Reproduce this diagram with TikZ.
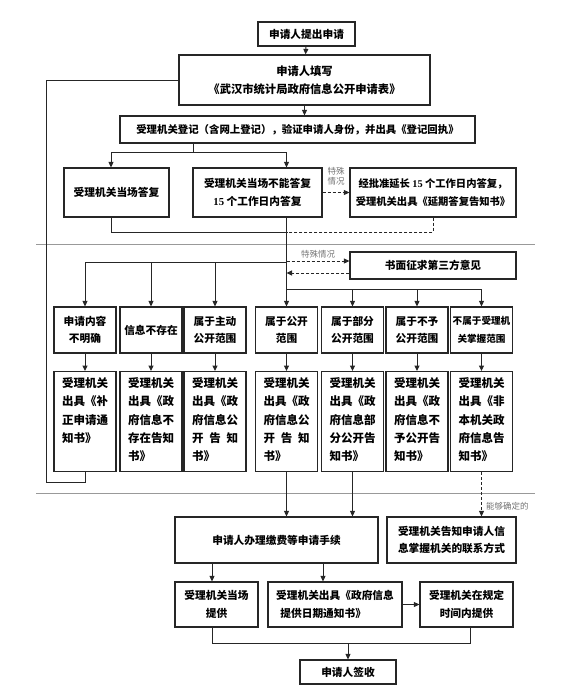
\documentclass[tikz,border=0pt]{standalone}
\usepackage{fontspec}
\setmainfont{Noto Sans CJK SC}
\newfontfamily\numfont{Liberation Serif}
\usetikzlibrary{arrows.meta}
\newcommand\rtwo[1]{\parbox[t][88pt][t]{46pt}{\fontsize{11.5}{18.3}\selectfont\bfseries #1}}
\newcommand\spreadline[1]{\makebox[46pt][s]{#1}}
\newcommand\nf[1]{{\numfont\bfseries #1}}
\begin{document}
\begin{tikzpicture}[x=1pt,y=-1pt,
  box/.style={draw=black!85, line width=1.2pt, inner sep=0pt, align=center,
    font=\fontsize{10.7}{17.5}\selectfont\bfseries},
  rbox/.style={draw=black!85, line width=1.2pt, inner xsep=8pt, inner ysep=6pt, anchor=north},
  conn/.style={draw=black!85, line width=1pt},
  arr/.style={conn, -{Triangle[length=5.5pt,width=5pt]}},
  dsh/.style={dash pattern=on 3pt off 2pt},
  sep/.style={draw=black!40, line width=1pt, dash pattern=on 0.5pt off 0.5pt},
  lbl/.style={text=black!55, inner sep=0pt, align=center, font=\fontsize{8.5}{10}\selectfont}]
\useasboundingbox (0,0) rectangle (587,691);

% ---------- top part ----------
\node[box, minimum width=97pt, minimum height=24pt] (A) at (306.5,34) {申请人提出申请};
\node[box, minimum width=251pt, minimum height=50pt, font=\fontsize{11.3}{18}\selectfont\bfseries] (B) at (304.5,80)
  {申请人填写\\《武汉市统计局政府信息公开申请表》};
\node[box, minimum width=355pt, minimum height=27pt, font=\fontsize{10.4}{12}\selectfont\bfseries] (C) at (297.5,129.5)
  {受理机关登记（含网上登记），验证申请人身份，并出具《登记回执》};
\node[box, minimum width=105pt, minimum height=49pt] (D1) at (116.5,192.5) {受理机关当场答复};
\node[box, minimum width=129pt, minimum height=49pt] (D2) at (257.5,192.5) {受理机关当场不能答复\\\nf{15} 个工作日内答复};
\node[box, minimum width=166pt, minimum height=49pt, font=\fontsize{10.3}{17.5}\selectfont\bfseries] (E) at (433,192.5)
  {经批准延长 \nf{15} 个工作日内答复，\\受理机关出具《延期答复告知书》};
\node[box, minimum width=166pt, minimum height=27pt] (F) at (433,265.5) {书面征求第三方意见};

\draw[arr] (A) -- (B);
\draw[arr] (B) -- (B.south |- C.north);

\coordinate (c1) at (193,152);
\coordinate (b1) at (111,152);
\coordinate (b2) at (286.5,152);
\draw[conn] (c1 |- C.south) -- (c1);
\draw[conn] (b1) -- (b2);
\draw[arr] (b1) -- (b1 |- D1.north);
\draw[arr] (b2) -- (b2 |- D2.north);

\draw[arr, dsh] (D2.east) -- (E.west);
\node[lbl] (lab1) at (336,176) {特殊\\情况};

\coordinate (d1) at (111,232);
\draw[conn] (b1 |- D1.south) -- (d1) -- (d1 -| b2);
\draw[conn, dsh] (E.south) -- (E.south |- d1) -- (d1 -| b2);

% separators
\coordinate (s1l) at (36,244);
\coordinate (s1r) at (535,244);
\draw[sep] (s1l) -- (s1r);
\coordinate (s2l) at (36,493);
\coordinate (s2r) at (535,493);
\draw[sep] (s2l) -- (s2r);

% third party opinion
\coordinate (f1) at ([yshift=4.5pt]F.west);
\coordinate (f2) at ([yshift=-7.5pt]F.west);
\draw[arr, dsh] (f1 -| b2) -- (f1);
\draw[arr, dsh] (f2) -- (f2 -| b2);
\node[lbl] (lab2) at (318,254) {特殊情况};

% ---------- row 1 ----------
\node[box, minimum width=62pt, minimum height=46pt] (R1a) at (85,330) {申请内容\\不明确};
\node[box, minimum width=62pt, minimum height=46pt] (R1b) at (151,330) {信息不存在};
\node[box, minimum width=62pt, minimum height=46pt] (R1c) at (215,330) {属于主动\\公开范围};
\node[box, minimum width=62pt, minimum height=46pt] (R1d) at (286.5,330) {属于公开\\范围};
\node[box, minimum width=62pt, minimum height=46pt] (R1e) at (352.5,330) {属于部分\\公开范围};
\node[box, minimum width=62pt, minimum height=46pt] (R1f) at (417,330) {属于不予\\公开范围};
\node[box, minimum width=62pt, minimum height=46pt, font=\fontsize{9.6}{17.5}\selectfont\bfseries] (R1g) at (481.5,330) {不属于受理机\\关掌握范围};

\draw[arr] (b2 |- D2.south) -- (R1d.north);

\coordinate (lb) at (0,262);
\draw[conn] (R1a.north |- lb) -- (lb -| R1d.north);
\draw[arr] (R1a.north |- lb) -- (R1a.north);
\draw[arr] (R1b.north |- lb) -- (R1b.north);
\draw[arr] (R1c.north |- lb) -- (R1c.north);

\coordinate (rb) at (0,289);
\draw[conn] (rb -| R1d.north) -- (rb -| R1g.north);
\draw[arr] (rb -| R1e.north) -- (R1e.north);
\draw[arr] (rb -| R1f.north) -- (R1f.north);
\draw[arr] (rb -| R1g.north) -- (R1g.north);

% ---------- row 2 ----------
\node[rbox] (R2a) at (85,371) {\rtwo{受理机关\\出具《补\\正申请通\\知书》}};
\node[rbox] (R2b) at (151,371) {\rtwo{受理机关\\出具《政\\府信息不\\存在告知\\书》}};
\node[rbox] (R2c) at (215,371) {\rtwo{受理机关\\出具《政\\府信息公\\\spreadline{开\hfill 告\hfill 知}\\书》}};
\node[rbox] (R2d) at (286.5,371) {\rtwo{受理机关\\出具《政\\府信息公\\\spreadline{开\hfill 告\hfill 知}\\书》}};
\node[rbox] (R2e) at (352.5,371) {\rtwo{受理机关\\出具《政\\府信息部\\分公开告\\知书》}};
\node[rbox] (R2f) at (417,371) {\rtwo{受理机关\\出具《政\\府信息不\\予公开告\\知书》}};
\node[rbox] (R2g) at (481.5,371) {\rtwo{受理机关\\出具《非\\本机关政\\府信息告\\知书》}};

\foreach \n in {a,b,c,d,e,f,g}{\draw[arr] (R1\n.south) -- (R2\n.north);}

% loop back to application form
\coordinate (L1) at (46,482);
\draw[conn] (R2a.south) -- (R2a.south |- L1) -- (L1) -- (L1 |- B.west) -- (B.west);

% ---------- bottom part ----------
\node[box, minimum width=203pt, minimum height=46pt] (G) at (276.5,540) {申请人办理缴费等申请手续};
\node[box, minimum width=129pt, minimum height=46pt] (H) at (451.5,540) {受理机关告知申请人信\\息掌握机关的联系方式};
\node[box, minimum width=83pt, minimum height=45pt] (I1) at (216.5,604.5) {受理机关当场\\提供};
\node[box, minimum width=134pt, minimum height=45pt] (I2) at (335,604.5) {受理机关出具《政府信息\\提供日期通知书》\hspace*{2.2em}};
\node[box, minimum width=93pt, minimum height=45pt] (I3) at (466.5,604.5) {受理机关在规定\\时间内提供};
\node[box, minimum width=96pt, minimum height=24pt] (J) at (348,672) {申请人签收};

\draw[arr] (R2d.south) -- (R2d.south |- G.north);
\draw[arr] (R2e.south) -- (R2e.south |- G.north);
\draw[arr, dsh] (R2g.south) -- (R2g.south |- H.north);
\node[lbl, anchor=west] (lab3) at (486,506) {能够确定的};

\coordinate (g1) at (212,0);
\coordinate (g2) at (323,0);
\draw[arr] (g1 |- G.south) -- (g1 |- I1.north);
\draw[arr] (g2 |- G.south) -- (g2 |- I2.north);
\draw[arr] (I2.east) -- (I3.west);

\coordinate (k) at (0,643);
\coordinate (k1) at (212,643);
\coordinate (k2) at (470,643);
\draw[conn] (k1 |- I1.south) -- (k1) -- (k2) -- (k2 |- I3.south);
\draw[arr] (k -| J.north) -- (J.north);
\end{tikzpicture}
\end{document}
